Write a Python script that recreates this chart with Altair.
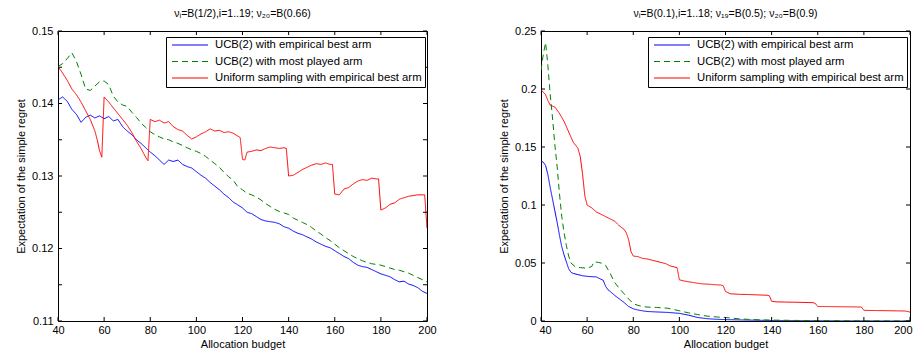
import altair as alt
import pandas as pd

SERIES = ["UCB(2) with empirical best arm",
          "UCB(2) with most played arm",
          "Uniform sampling with empirical best arm"]
COLORS = ["#0000ff", "#008000", "#ff0000"]
DASHES = [[1, 0], [6, 4], [1, 0]]

# ---------------- left panel data ----------------
L_X2 = list(range(40, 201, 2))
L_BLUE = [0.1405, 0.1409, 0.1403, 0.1392, 0.1385, 0.1374, 0.1381, 0.1384, 0.1380, 0.1383,
          0.1379, 0.1382, 0.1376, 0.1378, 0.1368, 0.1362, 0.1357, 0.1350, 0.1345, 0.1339,
          0.1333, 0.1328, 0.1322, 0.1316, 0.1322, 0.1320, 0.1322, 0.1316, 0.1313, 0.1311,
          0.1306, 0.1301, 0.1297, 0.1291, 0.1286, 0.1281, 0.1275, 0.1270, 0.1264, 0.1260,
          0.1256, 0.1250, 0.1248, 0.1244, 0.1240, 0.1238, 0.1237, 0.1236, 0.1234, 0.1230,
          0.1228, 0.1224, 0.1221, 0.1219, 0.1216, 0.1213, 0.1209, 0.1206, 0.1203, 0.1201,
          0.1197, 0.1193, 0.1189, 0.1186, 0.1181, 0.1177, 0.1175, 0.1174, 0.1171, 0.1168,
          0.1165, 0.1163, 0.1161, 0.1157, 0.1154, 0.1155, 0.1151, 0.1149, 0.1146, 0.1141,
          0.1138]
L_GREEN = [0.1451, 0.1455, 0.1462, 0.1470, 0.1458, 0.1440, 0.1420, 0.1418, 0.1424, 0.1430,
           0.1431, 0.1426, 0.1410, 0.1402, 0.1398, 0.1396, 0.1388, 0.1381, 0.1373, 0.1367,
           0.1361, 0.1357, 0.1354, 0.1351, 0.1350, 0.1347, 0.1345, 0.1342, 0.1339, 0.1336,
           0.1334, 0.1331, 0.1327, 0.1322, 0.1317, 0.1312, 0.1305, 0.1299, 0.1294, 0.1285,
           0.1281, 0.1276, 0.1274, 0.1271, 0.1267, 0.1262, 0.1258, 0.1254, 0.1251, 0.1249,
           0.1247, 0.1242, 0.1239, 0.1236, 0.1233, 0.1229, 0.1224, 0.1220, 0.1215, 0.1211,
           0.1206, 0.1201, 0.1197, 0.1193, 0.1189, 0.1186, 0.1183, 0.1181, 0.1179, 0.1178,
           0.1177, 0.1175, 0.1173, 0.1171, 0.1170, 0.1168, 0.1166, 0.1163, 0.1160, 0.1157,
           0.1154]
L_RED_X = [40, 42, 44, 46, 48, 50, 52, 54, 56, 57, 58, 59,
           60, 62, 64, 66, 68, 70, 72, 74, 76, 78, 79,
           80, 82, 84, 86, 88, 90, 92, 94, 96, 98, 100, 102, 104, 106, 108, 110, 112, 114, 116, 118, 119,
           120, 121, 122, 124, 126, 128, 130, 132, 134, 136, 138, 139,
           140, 142, 144, 146, 148, 150, 152, 154, 156, 158, 159,
           160, 162, 164, 166, 168, 170, 172, 174, 176, 178, 179,
           180, 182, 184, 186, 188, 190, 192, 194, 196, 198, 199, 200]
L_RED = [0.1451, 0.1442, 0.1432, 0.1420, 0.1412, 0.1402, 0.1390, 0.1378, 0.1362, 0.1350, 0.1335, 0.1326,
         0.1409, 0.1402, 0.1394, 0.1386, 0.1378, 0.1370, 0.1360, 0.1348, 0.1338, 0.1326, 0.1321,
         0.1378, 0.1375, 0.1377, 0.1373, 0.1375, 0.1368, 0.1364, 0.1362, 0.1356, 0.1351, 0.1354, 0.1358,
         0.1361, 0.1365, 0.1362, 0.1363, 0.1360, 0.1361, 0.1359, 0.1355, 0.1353,
         0.1323, 0.1322, 0.1333, 0.1334, 0.1336, 0.1335, 0.1338, 0.1340, 0.1339, 0.1338, 0.1339, 0.1338,
         0.1300, 0.1301, 0.1305, 0.1309, 0.1312, 0.1315, 0.1317, 0.1316, 0.1318, 0.1316, 0.1316,
         0.1275, 0.1274, 0.1282, 0.1284, 0.1289, 0.1293, 0.1295, 0.1294, 0.1297, 0.1296, 0.1296,
         0.1253, 0.1256, 0.1261, 0.1263, 0.1268, 0.1270, 0.1272, 0.1273, 0.1274, 0.1274, 0.1274, 0.1228]

# ---------------- right panel data ----------------
R_BLUE_X = [40, 41, 42, 43, 44, 45, 46, 47, 48, 49, 50, 51, 52, 53, 54, 56, 58, 60, 62, 64, 66, 67,
            68, 69, 70, 72, 74, 76, 78, 80, 82, 84, 86, 88, 90, 95, 100, 104, 108, 112, 116, 120,
            125, 130, 135, 140, 150, 160, 170, 180, 190, 200]
R_BLUE = [0.1375, 0.1370, 0.1340, 0.1260, 0.1150, 0.1050, 0.0950, 0.0850, 0.0740, 0.0640, 0.0570,
          0.0510, 0.0450, 0.0420, 0.0410, 0.0400, 0.0390, 0.0385, 0.0382, 0.0380, 0.0360, 0.0350,
          0.0300, 0.0270, 0.0255, 0.0220, 0.0190, 0.0160, 0.0125, 0.0105, 0.0095, 0.0088, 0.0082,
          0.0080, 0.0078, 0.0074, 0.0066, 0.0050, 0.0030, 0.0020, 0.0015, 0.0012, 0.0010, 0.0008,
          0.0006, 0.0004, 0.0003, 0.0002, 0.0001, 0.0001, 0.0000, 0.0000]
R_GREEN_X = [40, 41, 42, 43, 44, 45, 46, 47, 48, 49, 50, 51, 52, 53, 55, 57, 60, 62, 63, 65, 67, 68,
             70, 72, 74, 76, 78, 80, 82, 84, 86, 90, 95, 100, 104, 108, 112, 116, 120, 125, 130,
             135, 140, 150, 160, 170, 180, 190, 200]
R_GREEN = [0.2160, 0.2300, 0.2400, 0.2200, 0.1950, 0.1750, 0.1520, 0.1330, 0.1100, 0.0900, 0.0760,
           0.0650, 0.0560, 0.0500, 0.0465, 0.0460, 0.0455, 0.0470, 0.0510, 0.0505, 0.0495, 0.0480,
           0.0410, 0.0330, 0.0280, 0.0235, 0.0190, 0.0150, 0.0135, 0.0125, 0.0120, 0.0117, 0.0110,
           0.0088, 0.0070, 0.0055, 0.0042, 0.0035, 0.0030, 0.0020, 0.0014, 0.0010, 0.0008, 0.0005,
           0.0003, 0.0002, 0.0001, 0.0001, 0.0000]
R_RED_X = [40, 42, 43, 44, 46, 48, 50, 52, 54, 56, 57, 58, 59, 60, 62, 64, 66, 68, 70, 72, 74, 76,
           77, 78, 79, 80, 82, 84, 86, 88, 90, 92, 94, 96, 98, 99, 100, 102, 104, 106, 108, 110,
           112, 114, 116, 118, 119, 120, 122, 126, 130, 134, 138, 139, 140, 142, 146, 150, 154,
           158, 159, 160, 165, 170, 175, 179, 180, 185, 190, 195, 198, 200]
R_RED = [0.1995, 0.1950, 0.1900, 0.1860, 0.1845, 0.1790, 0.1720, 0.1630, 0.1540, 0.1490, 0.1420,
         0.1270, 0.1080, 0.1000, 0.0975, 0.0940, 0.0920, 0.0900, 0.0880, 0.0860, 0.0820, 0.0790,
         0.0760, 0.0700, 0.0600, 0.0560, 0.0555, 0.0540, 0.0535, 0.0525, 0.0515, 0.0505, 0.0495,
         0.0475, 0.0465, 0.0460, 0.0355, 0.0345, 0.0338, 0.0332, 0.0325, 0.0320, 0.0318, 0.0315,
         0.0312, 0.0310, 0.0305, 0.0255, 0.0235, 0.0230, 0.0228, 0.0225, 0.0222, 0.0218, 0.0170,
         0.0165, 0.0163, 0.0162, 0.0160, 0.0158, 0.0150, 0.0125, 0.0124, 0.0123, 0.0122, 0.0120,
         0.0092, 0.0090, 0.0089, 0.0087, 0.0086, 0.0077]

X_TICKS = [40, 60, 80, 100, 120, 140, 160, 180, 200]
L_Y_TICKS = [0.11, 0.115, 0.12, 0.125, 0.13, 0.135, 0.14, 0.145, 0.15]
R_Y_TICKS = [0, 0.05, 0.1, 0.15, 0.2, 0.25]

L_TITLE = "νᵢ=B(1/2),i=1..19; ν₂₀=B(0.66)"
R_TITLE = "νᵢ=B(0.1),i=1..18; ν₁₉=B(0.5); ν₂₀=B(0.9)"
X_TITLE = "Allocation budget"
Y_TITLE = "Expectation of the simple regret"

FONT = "Liberation Sans"
W, H = 369, 290


def frame(xs_list, ys_list):
    rows = []
    for name, xs, ys in zip(SERIES, xs_list, ys_list):
        for x, y in zip(xs, ys):
            rows.append({"budget": x, "regret": y, "series": name})
    return pd.DataFrame(rows)


def panel(df, title, ydom, yticks, legend_x, flush):
    xscale = alt.Scale(domain=[40, 200], nice=False, zero=False)
    yscale = alt.Scale(domain=ydom, nice=False, zero=False)
    legend = alt.Legend(
        title=None, orient="none", legendX=legend_x, legendY=6, direction="vertical",
        strokeColor="black", fillColor="white", padding=3, cornerRadius=0,
        symbolType="stroke", symbolSize=1296, symbolStrokeWidth=1.2, symbolOffset=2,
        clipHeight=10, labelFont=FONT, labelFontSize=11.3, labelColor="black", labelOffset=6,
        rowPadding=4.5, labelLimit=400,
    )
    xaxis_kw = dict(
        values=X_TICKS, title=X_TITLE, ticks=False, domain=False, grid=False,
        labelFont=FONT, labelFontSize=11, labelColor="black", labelPadding=3,
        labelOverlap=False,
        titleFont=FONT, titleFontSize=11, titleFontWeight="normal", titleColor="black",
        titlePadding=3)
    if flush:
        xaxis_kw.update(labelFlush=True, labelFlushOffset=2)
    else:
        xaxis_kw.update(labelFlush=False)
    lines = alt.Chart(df).mark_line(strokeWidth=1, clip=True).encode(
        x=alt.X("budget:Q", scale=xscale, axis=alt.Axis(**xaxis_kw)),
        y=alt.Y("regret:Q", scale=yscale, axis=alt.Axis(
            values=yticks, title=Y_TITLE, format="~g", ticks=False, domain=False, grid=False,
            labelFont=FONT, labelFontSize=11, labelColor="black", labelPadding=5,
            labelFlush=False, labelOverlap=False,
            titleFont=FONT, titleFontSize=11, titleFontWeight="normal", titleColor="black",
            titlePadding=5)),
        color=alt.Color("series:N", scale=alt.Scale(domain=SERIES, range=COLORS),
                        sort=SERIES, legend=legend),
        strokeDash=alt.StrokeDash("series:N", scale=alt.Scale(domain=SERIES, range=DASHES),
                                  sort=SERIES, legend=legend),
    )
    tx = pd.DataFrame({"budget": X_TICKS})
    ty = pd.DataFrame({"regret": yticks})
    tb = alt.Chart(tx).mark_rule(color="black", strokeWidth=1).encode(
        x="budget:Q", y=alt.value(H), y2=alt.value(H - 4))
    tt = alt.Chart(tx).mark_rule(color="black", strokeWidth=1).encode(
        x="budget:Q", y=alt.value(0), y2=alt.value(4))
    tl = alt.Chart(ty).mark_rule(color="black", strokeWidth=1).encode(
        y="regret:Q", x=alt.value(0), x2=alt.value(4))
    tr = alt.Chart(ty).mark_rule(color="black", strokeWidth=1).encode(
        y="regret:Q", x=alt.value(W - 4), x2=alt.value(W))
    return alt.layer(lines, tb, tt, tl, tr).properties(
        width=W, height=H,
        title=alt.TitleParams(title, font=FONT, fontSize=10.5, fontWeight="normal",
                              color="black", offset=6, anchor="middle"),
    )


left = panel(frame([L_X2, L_X2, L_RED_X], [L_BLUE, L_GREEN, L_RED]),
             L_TITLE, [0.11, 0.15], L_Y_TICKS, 108, False)
right = panel(frame([R_BLUE_X, R_GREEN_X, R_RED_X], [R_BLUE, R_GREEN, R_RED]),
              R_TITLE, [0, 0.25], R_Y_TICKS, 107, True)

chart = alt.hconcat(left, right, spacing=61).resolve_scale(
    color="independent", strokeDash="independent", x="independent", y="independent"
).resolve_legend(color="independent", strokeDash="independent").configure_view(
    stroke="black", strokeWidth=1
).properties(padding={"left": 7, "top": 0, "right": 0, "bottom": 0}, background="white")

chart.save("out.html", embed_options={"renderer": "svg", "actions": False})
